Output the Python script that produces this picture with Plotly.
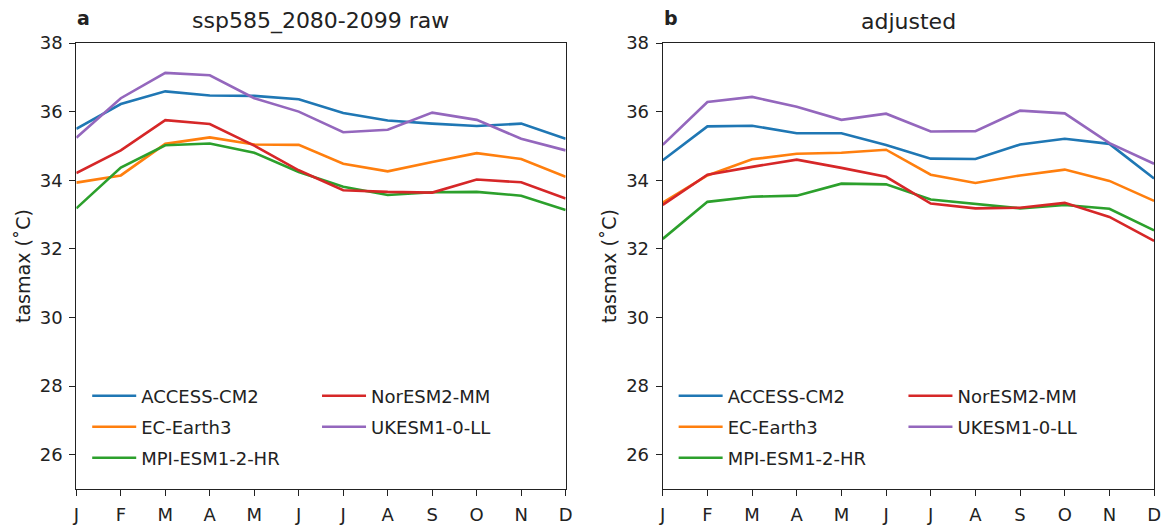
import plotly.graph_objects as go

months = ["J", "F", "M", "A", "M", "J", "J", "A", "S", "O", "N", "D"]
models = ["ACCESS-CM2", "EC-Earth3", "MPI-ESM1-2-HR", "NorESM2-MM", "UKESM1-0-LL"]
colors = ["#1f77b4", "#ff7f0e", "#2ca02c", "#d62728", "#9467bd"]

raw_access = [35.50, 36.22, 36.59, 36.47, 36.46, 36.36, 35.96, 35.74, 35.65, 35.58, 35.65, 35.21]
raw_ecearth = [33.93, 34.14, 35.06, 35.25, 35.04, 35.03, 34.48, 34.26, 34.53, 34.79, 34.62, 34.10]
raw_mpi = [33.18, 34.37, 35.02, 35.07, 34.80, 34.24, 33.81, 33.57, 33.65, 33.66, 33.55, 33.13]
raw_noresm = [34.21, 34.87, 35.75, 35.64, 35.01, 34.29, 33.71, 33.66, 33.64, 34.02, 33.94, 33.47]
raw_ukesm = [35.24, 36.39, 37.13, 37.06, 36.39, 36.00, 35.40, 35.47, 35.97, 35.76, 35.21, 34.87]

adj_access = [34.58, 35.57, 35.59, 35.37, 35.37, 35.03, 34.63, 34.62, 35.04, 35.21, 35.06, 34.05]
adj_ecearth = [33.35, 34.14, 34.61, 34.77, 34.80, 34.89, 34.16, 33.92, 34.14, 34.31, 33.98, 33.40]
adj_mpi = [32.29, 33.37, 33.52, 33.55, 33.90, 33.88, 33.44, 33.30, 33.18, 33.28, 33.17, 32.54]
adj_noresm = [33.28, 34.16, 34.39, 34.60, 34.36, 34.10, 33.32, 33.18, 33.20, 33.34, 32.93, 32.23]
adj_ukesm = [35.03, 36.28, 36.43, 36.14, 35.76, 35.94, 35.42, 35.43, 36.03, 35.95, 35.08, 34.48]

raw = [raw_access, raw_ecearth, raw_mpi, raw_noresm, raw_ukesm]
adj = [adj_access, adj_ecearth, adj_mpi, adj_noresm, adj_ukesm]

x = list(range(12))
FONT = "DejaVu Sans"
W, H = 1169, 527
TOP, BOT = 43, 489  # plot area pixel rows

# legend slot layout (column, row) for each model
slots = [(0, 0), (0, 1), (0, 2), (1, 0), (1, 1)]
col_x = [84, 316]          # px offset of legend columns, panel a
row_y = [396, 427, 458]    # px centre rows
panel_shift = [0, 592]

fig = go.Figure()
leg_layout = {}
n = 0
for panel, data in enumerate([raw, adj]):
    xa = "x" if panel == 0 else "x2"
    ya = "y" if panel == 0 else "y2"
    for i, (name, vals) in enumerate(zip(models, data)):
        n += 1
        lg = "legend" if n == 1 else "legend%d" % n
        c, r = slots[i]
        px = col_x[c] + panel_shift[panel]
        py = row_y[r]
        leg_layout[lg] = dict(
            x=px / W, y=(BOT - py) / (BOT - TOP), xanchor="left", yanchor="middle",
            bgcolor="rgba(0,0,0,0)", borderwidth=0,
            font=dict(family=FONT, size=18, color="#222"), itemwidth=44,
        )
        fig.add_trace(go.Scatter(
            x=x, y=vals, mode="lines", name=name,
            line=dict(color=colors[i], width=2.6),
            xaxis=xa, yaxis=ya, legend=lg, showlegend=True,
        ))

axis_common = dict(
    showgrid=False, zeroline=False, showline=True, linecolor="#222", linewidth=1.2,
    mirror=True, ticks="outside", ticklen=6, tickwidth=1.2, tickcolor="#222",
    tickfont=dict(family=FONT, size=18, color="#222"), ticklabelstandoff=3,
)
xdomA = [73 / W, 567 / W]
xdomB = [665 / W, 1161 / W]
ytitle = dict(text="tasmax (˚C)", font=dict(family=FONT, size=19, color="#222"), standoff=4)

fig.update_layout(
    width=W, height=H,
    margin=dict(l=0, r=0, t=TOP, b=H - BOT),
    paper_bgcolor="white", plot_bgcolor="white",
    font=dict(family=FONT, color="#222"),
    xaxis=dict(domain=xdomA, range=[0, 11], tickvals=x, ticktext=months, anchor="y", **axis_common),
    yaxis=dict(domain=[0, 1], range=[25, 38], tickvals=[26, 28, 30, 32, 34, 36, 38], anchor="x",
               title=ytitle, **axis_common),
    xaxis2=dict(domain=xdomB, range=[0, 11], tickvals=x, ticktext=months, anchor="y2", **axis_common),
    yaxis2=dict(domain=[0, 1], range=[25, 38], tickvals=[26, 28, 30, 32, 34, 36, 38], anchor="x2",
                title=ytitle, **axis_common),
    **leg_layout,
)

for xc, ttl, lx, lbl in [((xdomA[0] + xdomA[1]) / 2, "ssp585_2080-2099 raw", 73, "a"),
                          ((xdomB[0] + xdomB[1]) / 2, "adjusted", 665, "b")]:
    fig.add_annotation(x=xc, y=1, xref="paper", yref="paper", yanchor="bottom", xanchor="center",
                       yshift=7, text=ttl, showarrow=False,
                       font=dict(family=FONT, size=22, color="#222"))
    fig.add_annotation(x=(lx - 1) / W, y=1, xref="paper", yref="paper", yanchor="bottom", xanchor="left",
                       yshift=12, text="<b>" + lbl + "</b>", showarrow=False,
                       font=dict(family=FONT, size=19, color="#222"))

fig.write_html("out.html")
